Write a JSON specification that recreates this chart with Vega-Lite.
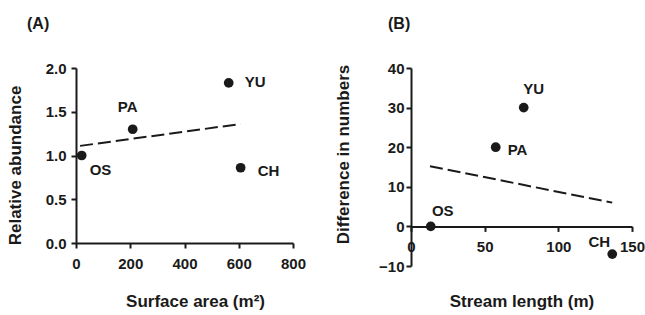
{
  "$schema": "https://vega.github.io/schema/vega-lite/v6.json",
  "padding": {"left": 6, "top": 16, "right": 0, "bottom": 0},
  "background": "white",
  "spacing": 28,
  "config": {
    "view": {"stroke": null},
    "font": "Liberation Sans",
    "axis": {
      "grid": false,
      "domainColor": "#1a1a1a",
      "domainWidth": 2,
      "tickColor": "#1a1a1a",
      "tickWidth": 2,
      "tickSize": 5,
      "labelFont": "Liberation Sans",
      "labelFontWeight": "bold",
      "labelFontSize": 15,
      "labelColor": "#1a1a1a",
      "labelFlush": false,
      "labelOverlap": false,
      "titleFont": "Liberation Sans",
      "titleFontWeight": "bold",
      "titleFontSize": 17,
      "titleColor": "#1a1a1a"
    },
    "title": {"font": "Liberation Sans", "fontWeight": "bold", "fontSize": 16, "color": "#1a1a1a"}
  },
  "datasets": {
    "ptsA": [
      {"site": "OS", "x": 21, "y": 1.0},
      {"site": "PA", "x": 209, "y": 1.30},
      {"site": "YU", "x": 563, "y": 1.83},
      {"site": "CH", "x": 607, "y": 0.86}
    ],
    "trendA": [
      {"x": 15, "y": 1.11},
      {"x": 607, "y": 1.36}
    ],
    "ptsB": [
      {"site": "OS", "x": 13.4, "y": 0},
      {"site": "PA", "x": 57.5, "y": 20},
      {"site": "YU", "x": 76.5, "y": 30},
      {"site": "CH", "x": 136.6, "y": -7}
    ],
    "trendB": [
      {"x": 12.9, "y": 15.2},
      {"x": 136.6, "y": 6.0}
    ]
  },
  "hconcat": [
    {
      "width": 217,
      "height": 175,
      "title": {"text": "(A)", "anchor": "start", "frame": "group", "dx": -49, "offset": 29},
      "layer": [
        {
          "data": {"name": "trendA"},
          "mark": {"type": "line", "color": "#1a1a1a", "strokeWidth": 2, "strokeDash": [13, 5]},
          "encoding": {
            "x": {"field": "x", "type": "quantitative", "scale": {"domain": [0, 800], "nice": false}, "axis": {"values": [0, 200, 400, 600, 800], "title": "Surface area (m²)", "labelOverlap": false, "labelPadding": 8, "titlePadding": 22, "titleX": 119}},
            "y": {"field": "y", "type": "quantitative", "scale": {"domain": [0, 2], "nice": false}, "axis": {"values": [0, 0.5, 1, 1.5, 2], "format": ".1f", "title": "Relative abundance", "labelOverlap": false, "labelPadding": 5, "titlePadding": 21, "titleY": 97}}
          }
        },
        {
          "data": {"name": "ptsA"},
          "mark": {"type": "circle", "size": 95, "opacity": 1, "color": "#1a1a1a"},
          "encoding": {
            "x": {"field": "x", "type": "quantitative"},
            "y": {"field": "y", "type": "quantitative"}
          }
        },
        {
          "data": {"name": "ptsA"},
          "transform": [{"filter": "datum.site == 'YU'"}],
          "mark": {"type": "text", "align": "left", "baseline": "middle", "dx": 16, "dy": -1, "fontSize": 15, "fontWeight": "bold", "color": "#1a1a1a"},
          "encoding": {"x": {"field": "x", "type": "quantitative"}, "y": {"field": "y", "type": "quantitative"}, "text": {"field": "site"}}
        },
        {
          "data": {"name": "ptsA"},
          "transform": [{"filter": "datum.site == 'PA'"}],
          "mark": {"type": "text", "align": "center", "baseline": "middle", "dx": -5, "dy": -22, "fontSize": 15, "fontWeight": "bold", "color": "#1a1a1a"},
          "encoding": {"x": {"field": "x", "type": "quantitative"}, "y": {"field": "y", "type": "quantitative"}, "text": {"field": "site"}}
        },
        {
          "data": {"name": "ptsA"},
          "transform": [{"filter": "datum.site == 'OS'"}],
          "mark": {"type": "text", "align": "left", "baseline": "middle", "dx": 8, "dy": 14, "fontSize": 15, "fontWeight": "bold", "color": "#1a1a1a"},
          "encoding": {"x": {"field": "x", "type": "quantitative"}, "y": {"field": "y", "type": "quantitative"}, "text": {"field": "site"}}
        },
        {
          "data": {"name": "ptsA"},
          "transform": [{"filter": "datum.site == 'CH'"}],
          "mark": {"type": "text", "align": "left", "baseline": "middle", "dx": 17, "dy": 3, "fontSize": 15, "fontWeight": "bold", "color": "#1a1a1a"},
          "encoding": {"x": {"field": "x", "type": "quantitative"}, "y": {"field": "y", "type": "quantitative"}, "text": {"field": "site"}}
        }
      ]
    },
    {
      "width": 221,
      "height": 198,
      "title": {"text": "(B)", "anchor": "start", "frame": "group", "dx": -23, "offset": 29},
      "layer": [
        {
          "data": {"name": "trendB"},
          "mark": {"type": "line", "color": "#1a1a1a", "strokeWidth": 2, "strokeDash": [13, 5]},
          "encoding": {
            "x": {"field": "x", "type": "quantitative", "scale": {"domain": [0, 150], "nice": false}, "axis": {"values": [0, 50, 100, 150], "title": "Stream length (m)", "labelOverlap": false, "offset": -39.6, "labelPadding": 8, "titlePadding": 39}},
            "y": {"field": "y", "type": "quantitative", "scale": {"domain": [-10, 40], "nice": false}, "axis": {"tickCount": 5, "title": "Difference in numbers", "labelOverlap": false, "labelPadding": 2, "titlePadding": 26, "titleY": 86}}
          }
        },
        {
          "data": {"name": "ptsB"},
          "mark": {"type": "circle", "size": 95, "opacity": 1, "color": "#1a1a1a"},
          "encoding": {
            "x": {"field": "x", "type": "quantitative"},
            "y": {"field": "y", "type": "quantitative"}
          }
        },
        {
          "data": {"name": "ptsB"},
          "transform": [{"filter": "datum.site == 'YU'"}],
          "mark": {"type": "text", "align": "center", "baseline": "middle", "dx": 10, "dy": -19, "fontSize": 15, "fontWeight": "bold", "color": "#1a1a1a"},
          "encoding": {"x": {"field": "x", "type": "quantitative"}, "y": {"field": "y", "type": "quantitative"}, "text": {"field": "site"}}
        },
        {
          "data": {"name": "ptsB"},
          "transform": [{"filter": "datum.site == 'PA'"}],
          "mark": {"type": "text", "align": "left", "baseline": "middle", "dx": 12, "dy": 3, "fontSize": 15, "fontWeight": "bold", "color": "#1a1a1a"},
          "encoding": {"x": {"field": "x", "type": "quantitative"}, "y": {"field": "y", "type": "quantitative"}, "text": {"field": "site"}}
        },
        {
          "data": {"name": "ptsB"},
          "transform": [{"filter": "datum.site == 'OS'"}],
          "mark": {"type": "text", "align": "center", "baseline": "middle", "dx": 12, "dy": -15, "fontSize": 15, "fontWeight": "bold", "color": "#1a1a1a"},
          "encoding": {"x": {"field": "x", "type": "quantitative"}, "y": {"field": "y", "type": "quantitative"}, "text": {"field": "site"}}
        },
        {
          "data": {"name": "ptsB"},
          "transform": [{"filter": "datum.site == 'CH'"}],
          "mark": {"type": "text", "align": "center", "baseline": "middle", "dx": -13, "dy": -12, "fontSize": 15, "fontWeight": "bold", "color": "#1a1a1a"},
          "encoding": {"x": {"field": "x", "type": "quantitative"}, "y": {"field": "y", "type": "quantitative"}, "text": {"field": "site"}}
        }
      ]
    }
  ]
}
